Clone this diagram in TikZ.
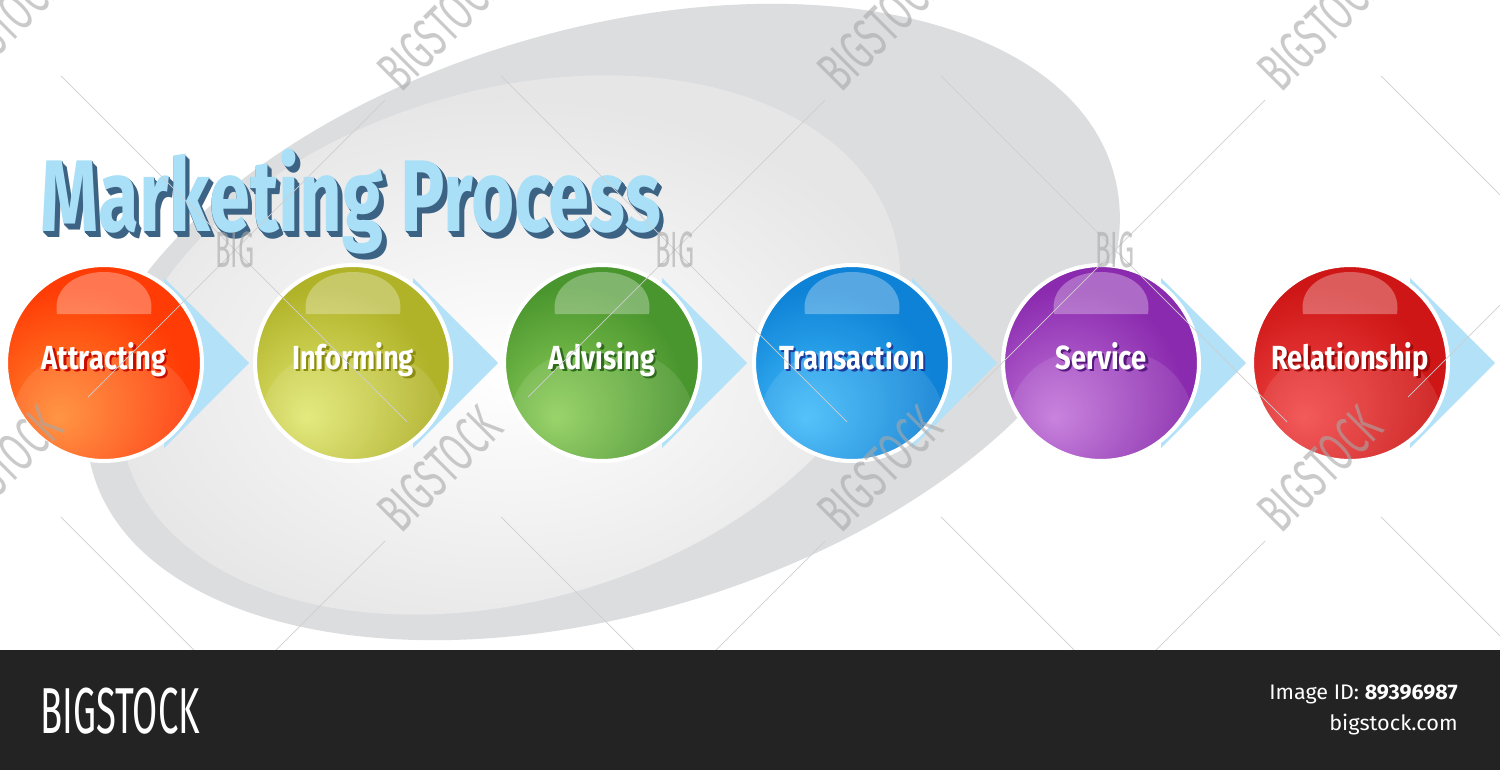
\documentclass[tikz,border=0pt]{standalone}
\usepackage{fontspec}
\setmainfont{Fira Sans}
\usepackage{graphicx}
\definecolor{titlefg}{HTML}{A9E0F7}
\definecolor{titlesh}{HTML}{3D6384}
\definecolor{chev}{HTML}{B3E1F7}
\definecolor{barbg}{HTML}{232323}
\definecolor{ringc}{HTML}{DCDDDF}
\definecolor{innerc}{HTML}{E6E6E7}
\definecolor{wmc}{HTML}{A8A8A8}
\definecolor{wml}{HTML}{CFCFCF}
% ball colours: l = glow, e = edge, s = text shadow
\definecolor{l1}{HTML}{FF8A30}\definecolor{e1}{HTML}{FF3C06}\definecolor{s1}{HTML}{C80E00}
\definecolor{l2}{HTML}{E2E872}\definecolor{e2}{HTML}{B0B228}\definecolor{s2}{HTML}{8C8C12}
\definecolor{l3}{HTML}{8FCF5A}\definecolor{e3}{HTML}{4A962E}\definecolor{s3}{HTML}{2E6A1C}
\definecolor{l4}{HTML}{42BCFA}\definecolor{e4}{HTML}{0E82D6}\definecolor{s4}{HTML}{1C3C9C}
\definecolor{l5}{HTML}{C376DA}\definecolor{e5}{HTML}{8A2AAE}\definecolor{s5}{HTML}{55187E}
\definecolor{l6}{HTML}{F24848}\definecolor{e6}{HTML}{CE1616}\definecolor{s6}{HTML}{9E0A0A}
\pgfdeclareradialshading{ball1}{\pgfpoint{-12bp}{-14bp}}{color(0bp)=(l1); color(28bp)=(e1); color(70bp)=(e1)}
\pgfdeclareradialshading{ball2}{\pgfpoint{-12bp}{-14bp}}{color(0bp)=(l2); color(28bp)=(e2); color(70bp)=(e2)}
\pgfdeclareradialshading{ball3}{\pgfpoint{-12bp}{-14bp}}{color(0bp)=(l3); color(28bp)=(e3); color(70bp)=(e3)}
\pgfdeclareradialshading{ball4}{\pgfpoint{-12bp}{-14bp}}{color(0bp)=(l4); color(28bp)=(e4); color(70bp)=(e4)}
\pgfdeclareradialshading{ball5}{\pgfpoint{-12bp}{-14bp}}{color(0bp)=(l5); color(28bp)=(e5); color(70bp)=(e5)}
\pgfdeclareradialshading{ball6}{\pgfpoint{-12bp}{-14bp}}{color(0bp)=(l6); color(28bp)=(e6); color(70bp)=(e6)}
\newcommand\cnd[2]{\scalebox{#1}[1]{#2}}
\tikzset{
  ball/.style={circle, minimum size=3.92cm, inner sep=0pt, draw=white, line width=2.3pt},
  lbl/.style={text=white, font=\fontsize{19}{21}\selectfont\bfseries, inner sep=0pt, anchor=base},
  titlefont/.style={font=\fontsize{58}{60}\selectfont\bfseries, inner sep=0pt, anchor=base west},
  chevron/.style={fill=chev},
  wmline/.style={draw=wml, line width=0.4pt},
  wmtext/.style={text=wmc, opacity=0.6, font=\fontsize{32}{32}\selectfont, inner sep=0pt},
  bartext/.style={text=white, inner sep=0pt},
}
\begin{document}
\begin{tikzpicture}[x=0.02cm,y=-0.02cm]
\useasboundingbox (0,0) rectangle (1500,770);
\fill[white] (0,0) rectangle (1500,650);
% background ring
\begin{scope}[shift={(603,322)}, rotate=16.5]
  \fill[ringc] (0,0) ellipse [x radius=532, y radius=292];
\end{scope}
\begin{scope}[shift={(510,345)}, rotate=16.5]
  \shade[inner color=white, outer color=innerc] (0,0) ellipse [x radius=400, y radius=255];
\end{scope}
% title
\foreach \d in {1,...,6}{
  \node[titlefont, text=titlesh] at (40+\d*0.8,232+\d*0.9) {\cnd{0.728}{Marketing Process}};
}
\node[titlefont, text=titlefg] (title) at (40,232) {\cnd{0.728}{Marketing Process}};
% chevrons
\foreach \i/\cx in {1/104,2/353,3/602,4/852,5/1101,6/1350}{
  \fill[chevron] (\cx+60,278) -- (\cx+145,363) -- (\cx+60,448) -- cycle;
}
% balls
\foreach \i/\cx/\t in {1/104/Attracting,2/353/Informing,3/602/Advising,4/852/Transaction,5/1101/Service,6/1350/Relationship}{
  \node[ball, shading=ball\i] (c\i) at (\cx,363) {};
  \begin{scope}
    \clip (\cx,363) circle (96);
    \fill[white, opacity=0.10, rounded corners=40] (\cx-92,352) rectangle (\cx+92,480);
  \end{scope}
  \fill[white, opacity=0.3] (\cx-47,314) .. controls (\cx-56,258) and (\cx+56,258) .. (\cx+47,314) -- cycle;
  \node[lbl, text=s\i] at (\cx+2.5,371.5) {\cnd{0.82}{\t}};
  \node[lbl] (t\i) at (\cx,369) {\cnd{0.82}{\t}};
}
% watermark
\begin{scope}
  \clip (0,0) rectangle (1500,650);
  \foreach \ox in {-379,61,501,941,1381}{
    \foreach \oy in {-365,76,517}{
      \draw[wmline] (\ox,\oy) -- (\ox+346,\oy+346);
      \draw[wmline] (\ox+324,\oy+24) -- (\ox+27,\oy+321);
      \node[wmtext, rotate=45, anchor=base west] at (\ox+340,\oy+18) {\cnd{0.6}{BIGSTOCK}};
      \node[wmtext, font=\fontsize{29}{29}\selectfont] at (\ox+174,\oy+174) {\cnd{0.5}{BIG}};
    }
  }
\end{scope}
% bottom bar
\fill[barbg] (0,650) rectangle (1500,770);
\node[bartext, anchor=base west, font=\fontsize{37}{37}\selectfont] (logo) at (40,733) {\cnd{0.56}{BIGSTOCK}};
\node[bartext, anchor=base east, font=\fontsize{12}{13}\selectfont] (imgid) at (1458,699) {\cnd{1.02}{Image ID: \textbf{89396987}}};
\node[bartext, anchor=base east, font=\fontsize{12}{13}\selectfont] (site) at (1458,730) {\cnd{1.03}{bigstock.com}};
\end{tikzpicture}
\end{document}
